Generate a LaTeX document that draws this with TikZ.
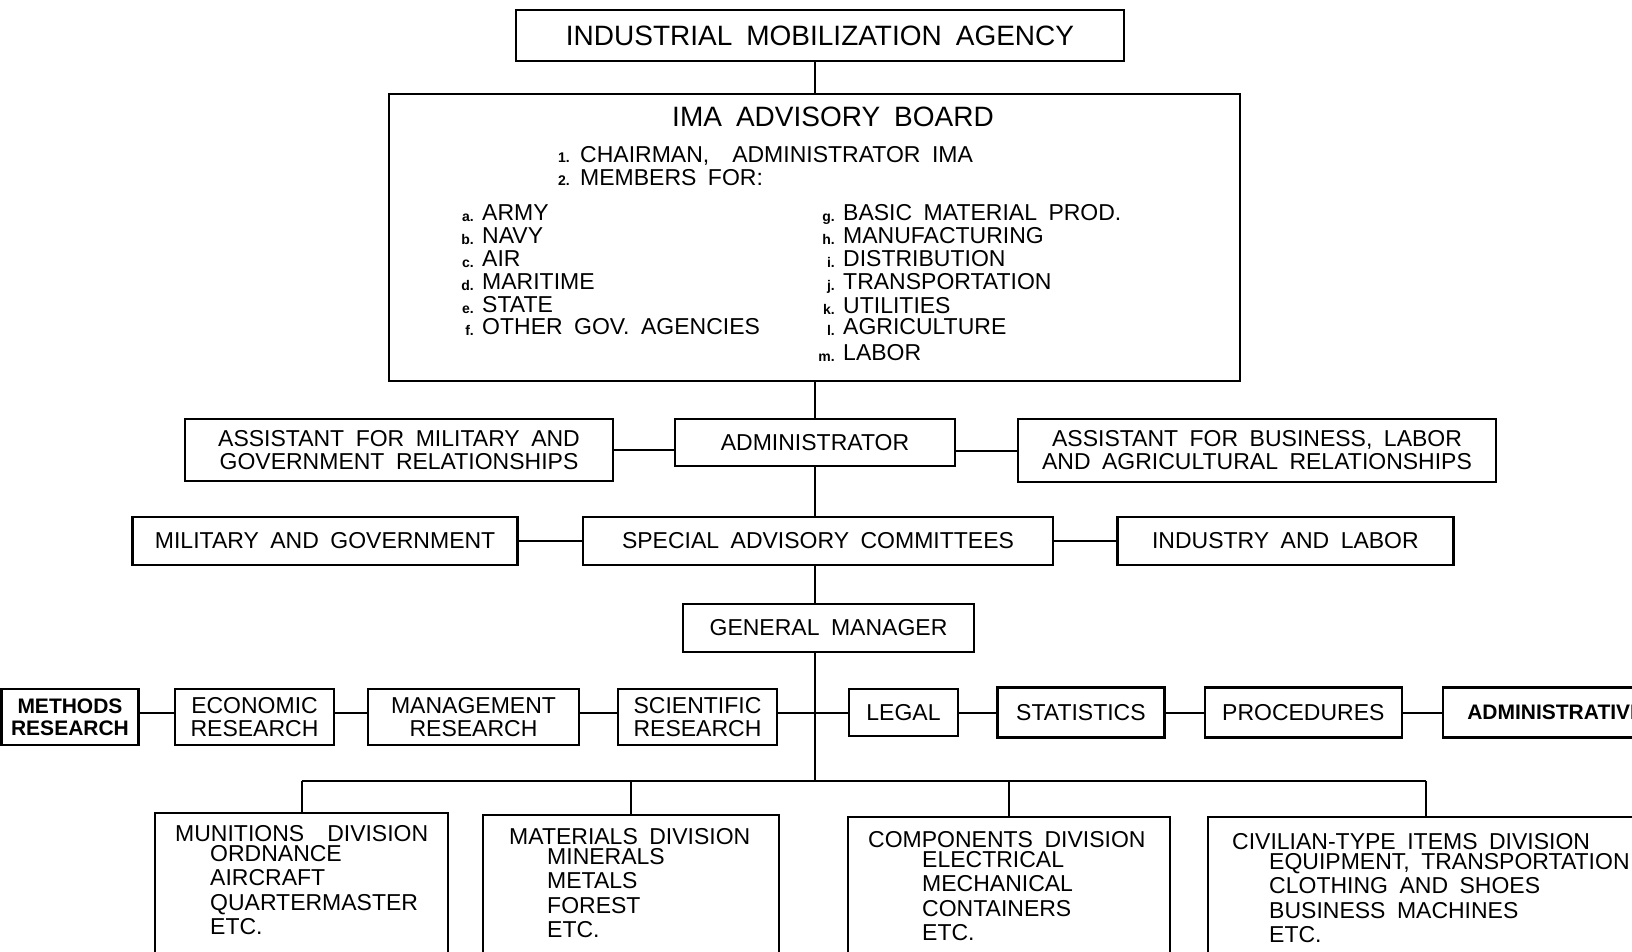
\documentclass[tikz,border=0pt]{standalone}
\usepackage{fontspec}
\setmainfont{Liberation Sans}[WordSpace=1.8]
\usepackage{tikz}
\usetikzlibrary{positioning}

\newcommand\bodyfont{\fontsize{23}{23}\selectfont}
\newcommand\headfont{\fontsize{28}{28}\selectfont}
\newcommand\tagfont{\fontsize{14}{14}\selectfont\bfseries}
\newcommand\divfont{\fontsize{23}{24.5}\selectfont}
\newcommand\heavyfont{\fontsize{21}{22}\selectfont\bfseries}

\tikzset{
  box/.style={draw, rectangle, line width=2.4pt, fill=white, inner sep=0pt, align=center, font=\bodyfont},
  conn/.style={line width=2pt},
  itemtext/.style={anchor=base west, inner sep=0pt, font=\bodyfont},
  itemtag/.style={anchor=base east, inner sep=0pt, font=\tagfont},
  divtext/.style={anchor=north west, inner sep=0pt, align=left, font=\divfont},
}

\begin{document}
\begin{tikzpicture}[x=1pt, y=-1pt]
\useasboundingbox (0,0) rectangle (1632,951);

\node (ima) [box, font=\headfont, minimum width=608pt, minimum height=51pt] at (820,35.5) {INDUSTRIAL MOBILIZATION AGENCY};

% advisory board
\node (board) [box, minimum width=851pt, minimum height=287pt] at (814.5,237.5) {};
\node (boardtitle) [font=\headfont, inner sep=0pt] at (833,117) {IMA ADVISORY BOARD};
\node (chair) [itemtext] at (580,162) {CHAIRMAN,\ \ ADMINISTRATOR IMA};
\node (chairno) [itemtag] at (570,162) {1.};
\node (members) [itemtext] at (580,185) {MEMBERS FOR:};
\node (membersno) [itemtag] at (570,185) {2.};
\foreach \t/\s/\y in {a/ARMY/212, b/NAVY/235, c/AIR/258, d/MARITIME/281, e/STATE/304, f/OTHER GOV. AGENCIES/326} {
  \node (lm\t) [itemtext] at (482,\y+8.2) {\s};
  \node (lt\t) [itemtag] at (474,\y+9) {\t.};
}
\foreach \t/\s/\y in {g/BASIC MATERIAL PROD./212, h/MANUFACTURING/235, i/DISTRIBUTION/258, j/TRANSPORTATION/281, k/UTILITIES/305, l/AGRICULTURE/326, m/LABOR/352} {
  \node (rm\t) [itemtext] at (843,\y+8.2) {\s};
  \node (rt\t) [itemtag] at (835,\y+9) {\t.};
}

\node (admin) [box, minimum width=280pt, minimum height=47pt] at (815,442.5) {ADMINISTRATOR};
\node (asstmil) [box, minimum width=428pt, minimum height=62pt] at (399,450) {ASSISTANT FOR MILITARY AND\\GOVERNMENT RELATIONSHIPS};
\node (asstbus) [box, minimum width=478pt, minimum height=63pt] at (1257,450.5) {ASSISTANT FOR BUSINESS, LABOR\\AND AGRICULTURAL RELATIONSHIPS};

\node (sac) [box, minimum width=470pt, minimum height=48pt] at (818,541) {SPECIAL ADVISORY COMMITTEES};
\node (milgov) [box, minimum width=385pt, minimum height=48pt, left=63pt of sac] {MILITARY AND GOVERNMENT};
\node (indlab) [box, minimum width=336pt, minimum height=48pt, right=62pt of sac] {INDUSTRY AND LABOR};

\node (gm) [box, minimum width=291pt, minimum height=48pt] at (828.5,628) {GENERAL MANAGER};

% staff row
\coordinate (row) at (0,713);
\node (methods) [box, font=\heavyfont, minimum width=137pt, minimum height=56pt] at (70,717) {METHODS\\RESEARCH};
\node (econ) [box, minimum width=159pt, minimum height=56pt] at (254.5,717) {ECONOMIC\\RESEARCH};
\node (mgmt) [box, minimum width=211pt, minimum height=56pt] at (473.5,717) {MANAGEMENT\\RESEARCH};
\node (sci) [box, minimum width=159pt, minimum height=56pt] at (697.5,717) {SCIENTIFIC\\RESEARCH};
\node (legal) [box, minimum width=109pt, minimum height=47pt] at (903.5,712.5) {LEGAL};
\node (stat) [box, minimum width=167pt, minimum height=50pt, right=37pt of legal] {STATISTICS};
\node (proc) [box, minimum width=197pt, minimum height=50pt, right=38pt of stat] {PROCEDURES};
\node (admv) [box, font=\heavyfont, minimum width=225pt, minimum height=50pt, right=39pt of proc] {ADMINISTRATIVE};

% divisions
\coordinate (bus) at (815,781);
\node (mun) [box, anchor=north, minimum width=293pt, minimum height=160pt] at (301.5,812) {};
\node (mat) [box, anchor=north, minimum width=296pt, minimum height=160pt] at (631,814) {};
\node (comp) [box, anchor=north, minimum width=322pt, minimum height=160pt] at (1009,816) {};
\node (civ) [box, anchor=north, minimum width=436pt, minimum height=160pt] at (1426,816) {};
\node (muntext) [divtext] at (175,825) {MUNITIONS\ \ DIVISION\\[-4.5pt]\hspace*{35pt}ORDNANCE\\\hspace*{35pt}AIRCRAFT\\\hspace*{35pt}QUARTERMASTER\\\hspace*{35pt}ETC.};
\node (mattext) [divtext] at (509,828) {MATERIALS DIVISION\\[-4.5pt]\hspace*{38pt}MINERALS\\\hspace*{38pt}METALS\\\hspace*{38pt}FOREST\\\hspace*{38pt}ETC.};
\node (comptext) [divtext] at (868,831) {COMPONENTS DIVISION\\[-4.5pt]\hspace*{54pt}ELECTRICAL\\\hspace*{54pt}MECHANICAL\\\hspace*{54pt}CONTAINERS\\\hspace*{54pt}ETC.};
\node (civtext) [divtext] at (1232,833) {CIVILIAN-TYPE ITEMS DIVISION\\[-4.5pt]\hspace*{37pt}EQUIPMENT, TRANSPORTATION\\\hspace*{37pt}CLOTHING AND SHOES\\\hspace*{37pt}BUSINESS MACHINES\\\hspace*{37pt}ETC.};

% connectors
\draw[conn] (ima.south -| admin) -- (board.north -| admin);
\draw[conn] (board.south -| admin) -- (admin);
\draw[conn] (admin) -- (sac.north -| admin);
\draw[conn] (sac.south -| admin) -- (gm.north -| admin);
\draw[conn] (gm.south -| admin) -- (bus);
\draw[conn] (asstmil.east) -- (asstmil.east -| admin.west);
\draw[conn] (asstbus.west) -- (asstbus.west -| admin.east);
\path[conn] (milgov) edge (sac);
\path[conn] (sac) edge (indlab);
\draw[conn] (methods.east |- row) -- (econ.west |- row);
\draw[conn] (econ.east |- row) -- (mgmt.west |- row);
\draw[conn] (mgmt.east |- row) -- (sci.west |- row);
\draw[conn] (sci.east |- row) -- (legal.west |- row);
\draw[conn] (legal.east |- row) -- (stat.west |- row);
\draw[conn] (stat.east |- row) -- (proc.west |- row);
\draw[conn] (proc.east |- row) -- (admv.west |- row);
\draw[conn] (bus -| mun) -- (bus -| civ);
\path[conn] (bus -| mun) edge (mun);
\path[conn] (bus -| mat) edge (mat);
\path[conn] (bus -| comp) edge (comp);
\path[conn] (bus -| civ) edge (civ);
\end{tikzpicture}
\end{document}
